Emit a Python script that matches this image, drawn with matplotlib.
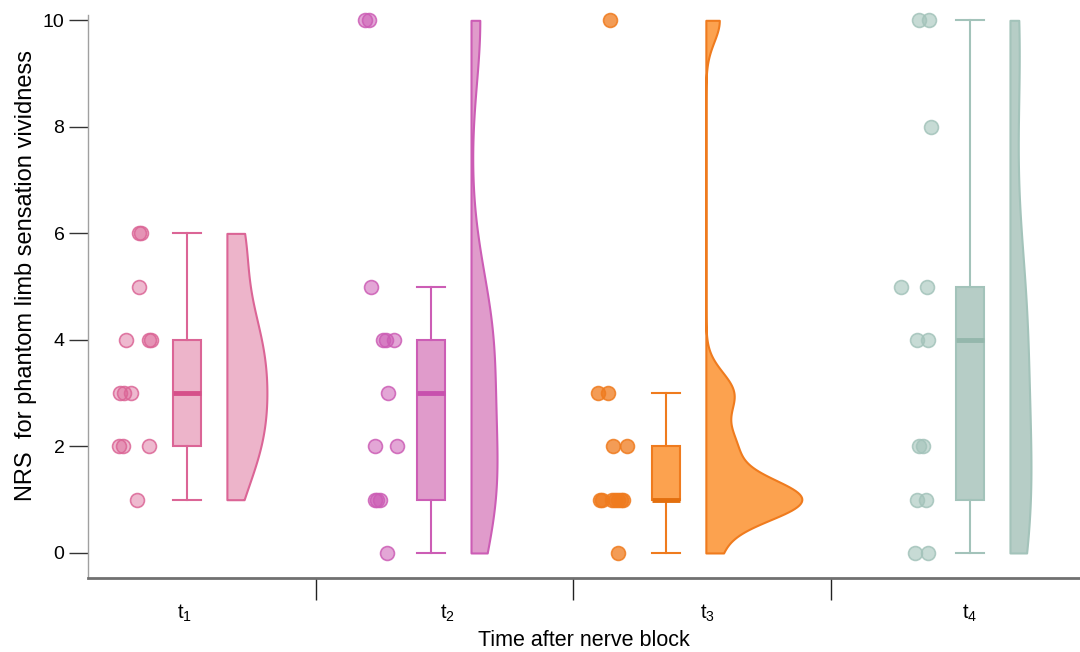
import numpy as np
import matplotlib
matplotlib.use("Agg")
import matplotlib.pyplot as plt
from matplotlib.colors import to_rgba

plt.rcParams["font.family"] = ["Liberation Sans", "DejaVu Sans"]
plt.rcParams["mathtext.fontset"] = "custom"
plt.rcParams["mathtext.rm"] = "Liberation Sans"
plt.rcParams["mathtext.it"] = "Liberation Sans:italic"

# ── data (NRS per patient, 13 patients) ───────────────────────────────────────
GROUPS = ["t$_1$", "t$_2$", "t$_3$", "t$_4$"]
T1 = [6, 6, 5, 4, 4, 4, 3, 3, 3, 2, 2, 2, 1]
T2 = [10, 10, 5, 4, 4, 4, 3, 2, 2, 1, 1, 1, 0]
T3 = [10, 3, 3, 2, 2, 1, 1, 1, 1, 1, 1, 1, 0]
T4 = [10, 10, 8, 5, 5, 4, 4, 2, 2, 1, 1, 0, 0]
Y_TICKS = [0, 2, 4, 6, 8, 10]

# ── layout ────────────────────────────────────────────────────────────────────
PX = 1 / 257.5                      # one pixel in x data units
BOX_POS = [0.999, 1.947, 2.859, 4.040]
LABEL_POS = [0.991, 2.009, 3.022, 4.040]
SEPARATORS = [1.5, 2.5, 3.5]
VIO_SHIFT = 0.155
VIO_HALF = [40 * PX, 26 * PX, 96 * PX, 21 * PX]
BOX_W = 28 * PX

# dot jitter, pixel offsets left of each box
JIT1 = [-48, -46, -48, -61, -38, -36, -67, -63, -56, -68, -64, -38, -50]
JIT2 = [-66, -62, -60, -48, -45, -37, -43, -56, -34, -56, -54, -51, -44]
JIT3 = [-56, -68, -58, -53, -39, -66, -64, -54, -51, -48, -45, -43, -48]
JIT4 = [-51, -41, -39, -69, -43, -53, -42, -51, -47, -53, -44, -55, -42]

EDGE = ["#DB6596", "#CC5DB5", "#EF7B1E", "#A3C3BA"]
FILL = ["#EDB4CA", "#E09BCB", "#FCA24F", "#B6CDC6"]
MEDIAN = ["#D6508A", "#C850AE", "#E36F0E", "#94B7AC"]
DOT_ALPHA = [0.45, 0.55, 0.75, 0.6]


def nrd0(kde):
    """Silverman's rule of thumb, returned as a factor of the sample sd."""
    x = np.asarray(kde.dataset).ravel()
    sd = x.std(ddof=1)
    q75, q25 = np.percentile(x, [75, 25])
    h = 0.9 * min(sd, (q75 - q25) / 1.34) * len(x) ** -0.2
    return h / sd


data = [T1, T2, T3, T4]
jitter = [JIT1, JIT2, JIT3, JIT4]

fig, ax = plt.subplots(figsize=(10.8, 6.52), dpi=100)
fig.subplots_adjust(left=88 / 1080, right=1.0, bottom=1 - 578 / 652, top=1 - 15 / 652)

# raw points
for i, vals in enumerate(data):
    xs = BOX_POS[i] + np.array(jitter[i]) * PX
    ax.scatter(xs, vals, s=100, facecolors=[to_rgba(EDGE[i], DOT_ALPHA[i])],
               edgecolors=[to_rgba(EDGE[i], 0.85)], linewidths=1.2,
               zorder=3, clip_on=False)

# boxes
bp = ax.boxplot(data, positions=BOX_POS, widths=BOX_W, showfliers=False,
                patch_artist=True, capwidths=BOX_W, manage_ticks=False)
for i in range(4):
    bp["boxes"][i].set(facecolor=FILL[i], edgecolor=EDGE[i], linewidth=1.5)
    bp["medians"][i].set(color=MEDIAN[i], linewidth=3.5)
    for art in bp["whiskers"][2 * i:2 * i + 2] + bp["caps"][2 * i:2 * i + 2]:
        art.set(color=EDGE[i], linewidth=1.5)

# half violins
vio_pos = [p + VIO_SHIFT for p in BOX_POS]
vp = ax.violinplot(data, positions=vio_pos, widths=[2 * w for w in VIO_HALF],
                   showextrema=False, bw_method=nrd0, points=300)
for i, body in enumerate(vp["bodies"]):
    verts = body.get_paths()[0].vertices
    verts[:, 0] = np.maximum(verts[:, 0], vio_pos[i])
    body.set(facecolor=FILL[i], edgecolor=EDGE[i], linewidth=1.5, alpha=1)

# axes styling
ax.set_xlim(0.6146, 4.467)
ax.set_ylim(-0.47, 10.1)
ax.spines[["top", "right"]].set_visible(False)
ax.spines["left"].set(color="#A0A0A0", linewidth=1)
ax.spines["bottom"].set(color="#707070", linewidth=2)

ax.set_yticks(Y_TICKS)
ax.tick_params(axis="y", length=14, width=1, color="#333333", labelsize=14, pad=3)
ax.set_xticks(LABEL_POS, GROUPS)
ax.set_xticks(SEPARATORS, minor=True)
ax.tick_params(axis="x", which="major", length=0, pad=18, labelsize=14.5)
ax.tick_params(axis="x", which="minor", length=16, width=1, color="#222222")

ax.set_xlabel("Time after nerve block", fontsize=15.5, labelpad=4)
ax.set_ylabel("NRS  for phantom limb sensation vividness", fontsize=17)
ax.yaxis.set_label_coords(-0.051, 0.538)

fig.savefig("out.png", dpi=100)
